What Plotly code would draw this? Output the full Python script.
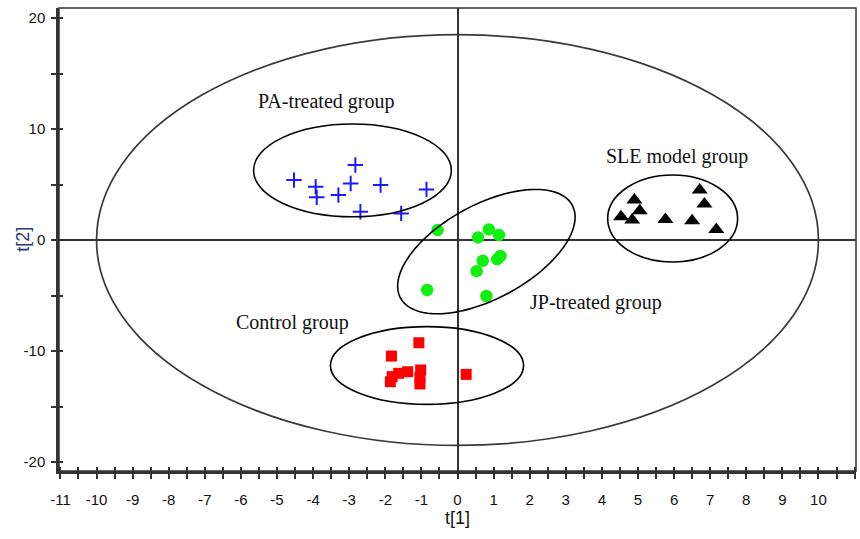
import numpy as np
import plotly.graph_objects as go

# PCA score coordinates (t[1], t[2]) for each group
pa_t1 = [-4.53, -3.93, -3.90, -3.30, -2.96, -2.83, -2.69, -2.13, -1.56, -0.86]
pa_t2 = [5.40, 4.80, 3.85, 4.05, 5.10, 6.76, 2.55, 4.95, 2.40, 4.56]

sle_t1 = [4.53, 4.84, 5.05, 4.90, 5.76, 6.50, 6.71, 6.84, 7.17]
sle_t2 = [2.10, 1.80, 2.64, 3.60, 1.86, 1.74, 4.50, 3.24, 0.96]

jp_t1 = [-0.55, 0.57, 0.87, 1.15, 0.70, 1.10, 1.19, 0.53, -0.84, 0.80]
jp_t2 = [0.90, 0.24, 0.96, 0.45, -1.86, -1.74, -1.44, -2.80, -4.50, -5.04]

ctl_t1 = [-1.07, -1.83, -1.86, -1.81, -1.63, -1.38, -1.02, -1.04, -1.04, 0.24]
ctl_t2 = [-9.25, -10.45, -12.76, -12.30, -12.00, -11.86, -11.70, -12.36, -12.96, -12.10]

# axis settings
x_range = [-11.04, 11.04]
y_range = [-20.8, 20.9]
x_ticks = list(range(-11, 12))
x_tick_text = [str(v) for v in x_ticks]
y_ticks = [-20, -10, 0, 10, 20]
y_tick_text = [str(v) for v in y_ticks]

# Hotelling T2 (95%) ellipse: semi-axes in data units
t2_ellipse = dict(a=10.0, b=18.5)

# axis-aligned group ellipses: (x0, x1, y0, y1)
pa_box = (-5.65, -0.17, 2.1, 10.45)
sle_box = (4.16, 7.76, -1.98, 5.86)
ctl_box = (-3.52, 1.83, -14.8, -7.8)

# tilted JP-treated ellipse: centre (data), semi-axes (screen px), angle (deg)
jp_ell = dict(cx=0.80, cy=-1.04, a=97.6, b=47.0, angle=28.4)

# group labels: text, t[1], t[2]
lbl_text = ["PA-treated group", "SLE model group", "Control group", "JP-treated group"]
lbl_x = [-3.63, 6.07, -4.57, 3.85]
lbl_y = [12.5, 7.57, -7.39, -5.59]

W, H = 860, 539
margin = dict(l=59, r=4, t=8, b=68)
plot_w = W - margin["l"] - margin["r"]
plot_h = H - margin["t"] - margin["b"]
px_per_x = plot_w / (x_range[1] - x_range[0])
px_per_y = plot_h / (y_range[1] - y_range[0])

fig = go.Figure()

fig.add_trace(go.Scatter(
    x=pa_t1, y=pa_t2, mode="markers", name="PA",
    marker=dict(symbol="cross-thin", size=11, line=dict(width=2, color="#1a1aff"), color="#1a1aff"),
))
fig.add_trace(go.Scatter(
    x=sle_t1, y=sle_t2, mode="markers", name="SLE",
    marker=dict(symbol="triangle-up", size=14, color="black"),
))
fig.add_trace(go.Scatter(
    x=jp_t1, y=jp_t2, mode="markers", name="JP",
    marker=dict(symbol="circle", size=12.5, color="#11f011"),
))
fig.add_trace(go.Scatter(
    x=ctl_t1, y=ctl_t2, mode="markers", name="Control",
    marker=dict(symbol="square", size=11, color="#ff0000"),
))

line_dark = "#333333"

# Hotelling T2 ellipse
fig.add_shape(type="circle", xref="x", yref="y",
              x0=-t2_ellipse["a"], x1=t2_ellipse["a"],
              y0=-t2_ellipse["b"], y1=t2_ellipse["b"],
              line=dict(color="#3a3a3a", width=1.7), layer="below")

for (x0, x1, y0, y1) in (pa_box, sle_box, ctl_box):
    fig.add_shape(type="circle", xref="x", yref="y", x0=x0, x1=x1, y0=y0, y1=y1,
                  line=dict(color="black", width=1.6))

# tilted ellipse built in screen-proportional space, then mapped to data units
t = np.linspace(0, 2 * np.pi, 181)
th = np.deg2rad(jp_ell["angle"])
u = jp_ell["a"] * np.cos(t)
v = jp_ell["b"] * np.sin(t)
ex = jp_ell["cx"] + (u * np.cos(th) - v * np.sin(th)) / px_per_x
ey = jp_ell["cy"] + (u * np.sin(th) + v * np.cos(th)) / px_per_y
path = "M " + " L ".join(f"{a:.4f},{b:.4f}" for a, b in zip(ex, ey)) + " Z"
fig.add_shape(type="path", xref="x", yref="y", path=path,
              line=dict(color="black", width=1.6))

# thin frame on top/right
fig.add_shape(type="rect", xref="paper", yref="paper", x0=0, x1=1, y0=0, y1=1,
              line=dict(color=line_dark, width=1.5), layer="below")

for txt, lx, ly in zip(lbl_text, lbl_x, lbl_y):
    fig.add_annotation(x=lx, y=ly, text=txt, showarrow=False,
                       font=dict(family="Liberation Serif, Times New Roman, serif", size=20, color="#111111"))

# y-axis title
fig.add_annotation(xref="paper", yref="paper", x=-0.046, y=0.5, text="t[2]", textangle=-90,
                   showarrow=False, xanchor="center", yanchor="middle",
                   font=dict(family="Liberation Sans, Arial", size=18, color="#1f3a80"))

tick_font = dict(family="Liberation Sans Narrow, Arial Narrow, Liberation Sans, Arial", size=15, color="#111111")

fig.update_layout(
    width=W, height=H, margin=margin,
    paper_bgcolor="white", plot_bgcolor="white",
    showlegend=False,
    xaxis=dict(
        range=x_range, tickmode="array", tickvals=x_ticks, ticktext=x_tick_text,
        ticks="outside", ticklen=5, tickwidth=1.5, tickcolor=line_dark,
        minor=dict(dtick=0.5, ticks="outside", ticklen=5, tickwidth=1.5, tickcolor=line_dark),
        showline=True, linewidth=2.5, linecolor=line_dark,
        showgrid=False, zeroline=True, zerolinewidth=2, zerolinecolor=line_dark,
        tickfont=tick_font, ticklabelstandoff=8,
        title=dict(text="t[1]", font=dict(family="Liberation Sans, Arial", size=18, color="#111111"), standoff=4),
    ),
    yaxis=dict(
        range=y_range, tickmode="array", tickvals=y_ticks, ticktext=y_tick_text,
        ticks="outside", ticklen=5, tickwidth=1.5, tickcolor=line_dark,
        minor=dict(dtick=5, ticks="outside", ticklen=5, tickwidth=1.5, tickcolor=line_dark),
        showline=True, linewidth=2.5, linecolor=line_dark,
        showgrid=False, zeroline=True, zerolinewidth=2, zerolinecolor=line_dark,
        tickfont=tick_font, ticklabelstandoff=3,
    ),
    # overlay axes give inward tick marks so ticks cross the axis lines
    xaxis2=dict(overlaying="x", matches="x", anchor="y", side="bottom", range=x_range,
                tickmode="array", tickvals=x_ticks, ticks="inside", ticklen=4, tickwidth=1.5,
                tickcolor=line_dark, showticklabels=False, showgrid=False, zeroline=False,
                minor=dict(dtick=0.5, ticks="inside", ticklen=4, tickwidth=1.5, tickcolor=line_dark)),
    yaxis2=dict(overlaying="y", matches="y", anchor="x", side="left", range=y_range,
                tickmode="array", tickvals=y_ticks, ticks="inside", ticklen=4, tickwidth=1.5,
                tickcolor=line_dark, showticklabels=False, showgrid=False, zeroline=False,
                minor=dict(dtick=5, ticks="inside", ticklen=4, tickwidth=1.5, tickcolor=line_dark)),
)

# invisible trace to activate the overlay axes
fig.add_trace(go.Scatter(x=[0], y=[0], xaxis="x2", yaxis="y2", mode="markers",
                         marker=dict(opacity=0), hoverinfo="skip", showlegend=False))

fig.write_html("out.html")
